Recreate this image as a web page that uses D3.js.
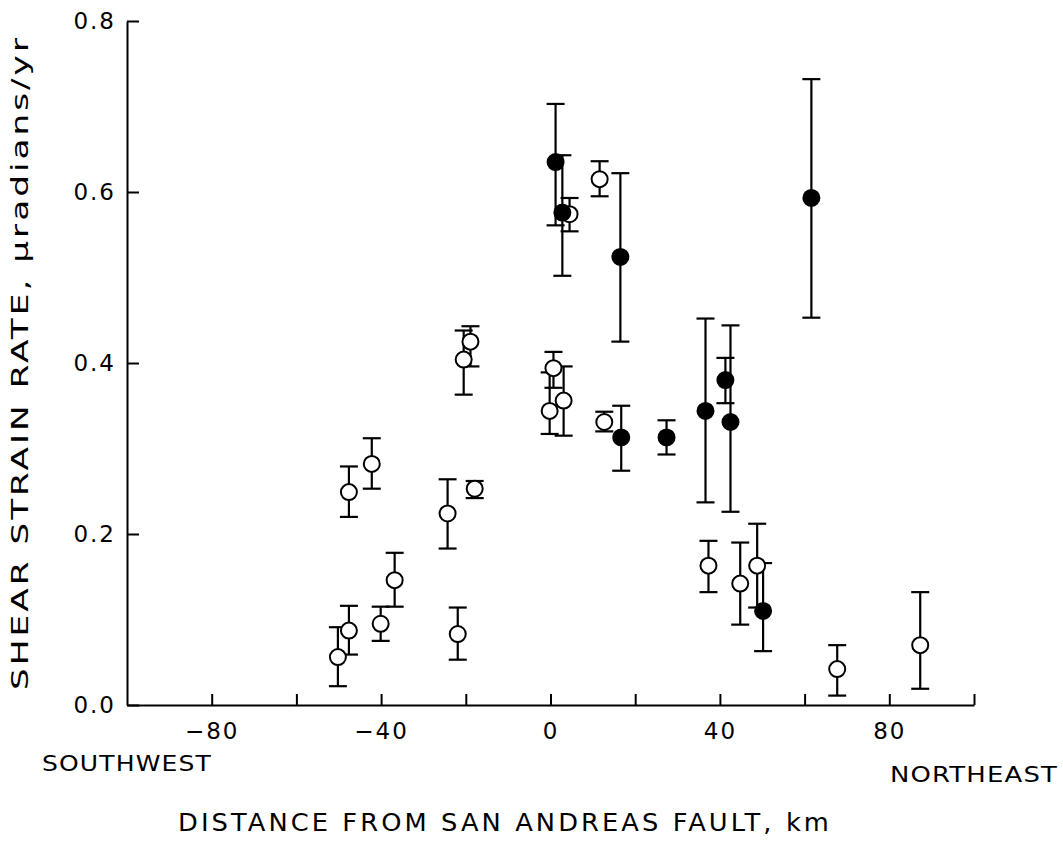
<!DOCTYPE html>
<html>
<head>
<meta charset="utf-8">
<script src="https://cdn.jsdelivr.net/npm/d3@7"></script>
<style>
  html, body { margin: 0; padding: 0; background: #fff; }
  svg { display: block; }
  text { font-family: "DejaVu Sans", sans-serif; fill: #000; }
</style>
</head>
<body>
<div id="chart"></div>
<script>
// open circles
const openDist = [-50.2, -47.6, -47.6, -42.2, -40.1, -36.8, -24.3, -21.9, -20.5, -18.9, -17.9,
  -0.2, 0.7, 3.1, 4.5, 11.6, 12.7, 37.3, 44.8, 48.8, 67.7, 87.3];
const openRate = [0.056, 0.087, 0.249, 0.282, 0.095, 0.146, 0.224, 0.083, 0.404, 0.425, 0.253,
  0.344, 0.394, 0.356, 0.574, 0.615, 0.331, 0.163, 0.142, 0.163, 0.042, 0.070];
const openLow = [0.022, 0.059, 0.220, 0.253, 0.075, 0.115, 0.183, 0.053, 0.363, 0.396, 0.242,
  0.317, 0.371, 0.315, 0.554, 0.595, 0.320, 0.132, 0.094, 0.114, 0.011, 0.019];
const openHigh = [0.091, 0.116, 0.279, 0.312, 0.115, 0.178, 0.264, 0.114, 0.438, 0.443, 0.262,
  0.389, 0.413, 0.396, 0.593, 0.636, 0.343, 0.192, 0.190, 0.212, 0.070, 0.132];

// filled circles
const fillDist = [1.2, 2.8, 16.5, 16.7, 27.4, 36.6, 41.3, 42.5, 50.2, 61.6];
const fillRate = [0.635, 0.576, 0.524, 0.313, 0.313, 0.344, 0.380, 0.331, 0.110, 0.593];
const fillLow = [0.561, 0.502, 0.425, 0.274, 0.293, 0.237, 0.353, 0.226, 0.063, 0.453];
const fillHigh = [0.703, 0.643, 0.622, 0.350, 0.333, 0.452, 0.406, 0.444, 0.166, 0.732];

const xTicks = [-80, -60, -40, -20, 0, 20, 40, 60, 80, 100];
const xLabelled = [-80, -40, 0, 40, 80];
const yTicks = [0, 0.2, 0.4, 0.6, 0.8];

const width = 1063;
const height = 841;

const svg = d3.select("#chart").append("svg")
  .attr("width", width)
  .attr("height", height);

const xScale = d3.scaleLinear().domain([-100, 100]).range([127, 974]);
const yScale = d3.scaleLinear().domain([0, 0.8]).range([705, 21]);

// x axis, ticks pointing up into the plot
const xAxis = d3.axisBottom(xScale)
  .tickValues(xTicks)
  .tickSize(-11)
  .tickSizeOuter(0)
  .tickPadding(18)
  .tickFormat((d) => (xLabelled.includes(d) ? d3.format("d")(d) : ""));

const gx = svg.append("g")
  .attr("transform", `translate(0, ${yScale(0)})`)
  .call(xAxis);

// y axis, ticks pointing right
const yAxis = d3.axisLeft(yScale)
  .tickValues(yTicks)
  .tickSize(-12)
  .tickSizeOuter(0)
  .tickPadding(11)
  .tickFormat(d3.format(".1f"));

const gy = svg.append("g")
  .attr("transform", `translate(${xScale(-100)}, 0)`)
  .call(yAxis);

[gx, gy].forEach((g) => {
  g.selectAll("path, line").attr("stroke", "#000").attr("stroke-width", 2);
  g.selectAll("text")
    .style("font-size", "23px")
    .style("letter-spacing", "2px")
    .attr("fill", "#000");
});

// data
const points = [];
openDist.forEach((d, i) => points.push({ x: d, y: openRate[i], lo: openLow[i], hi: openHigh[i], filled: false }));
fillDist.forEach((d, i) => points.push({ x: d, y: fillRate[i], lo: fillLow[i], hi: fillHigh[i], filled: true }));

const cap = 9;
const bars = svg.append("g").attr("class", "errorbars")
  .attr("stroke", "#000")
  .attr("stroke-width", 2.2);

bars.selectAll("line.v")
  .data(points)
  .join("line")
  .attr("class", "v")
  .attr("x1", (d) => xScale(d.x))
  .attr("x2", (d) => xScale(d.x))
  .attr("y1", (d) => yScale(d.lo))
  .attr("y2", (d) => yScale(d.hi));

bars.selectAll("line.hi")
  .data(points)
  .join("line")
  .attr("class", "hi")
  .attr("x1", (d) => xScale(d.x) - cap)
  .attr("x2", (d) => xScale(d.x) + cap)
  .attr("y1", (d) => yScale(d.hi))
  .attr("y2", (d) => yScale(d.hi));

bars.selectAll("line.lo")
  .data(points)
  .join("line")
  .attr("class", "lo")
  .attr("x1", (d) => xScale(d.x) - cap)
  .attr("x2", (d) => xScale(d.x) + cap)
  .attr("y1", (d) => yScale(d.lo))
  .attr("y2", (d) => yScale(d.lo));

svg.append("g").attr("class", "dots")
  .selectAll("circle")
  .data(points)
  .join("circle")
  .attr("cx", (d) => xScale(d.x))
  .attr("cy", (d) => yScale(d.y))
  .attr("r", 8)
  .attr("fill", (d) => (d.filled ? "#000" : "#fff"))
  .attr("stroke", "#000")
  .attr("stroke-width", 2);

// labels
svg.append("text")
  .attr("x", 42)
  .attr("y", 771)
  .attr("textLength", 170)
  .attr("lengthAdjust", "spacingAndGlyphs")
  .style("font-size", "22px")
  .style("letter-spacing", "1px")
  .text("SOUTHWEST");

svg.append("text")
  .attr("x", 890)
  .attr("y", 782)
  .attr("textLength", 168)
  .attr("lengthAdjust", "spacingAndGlyphs")
  .style("font-size", "22px")
  .style("letter-spacing", "1px")
  .text("NORTHEAST");

svg.append("text")
  .attr("x", 178)
  .attr("y", 831)
  .attr("textLength", 654)
  .attr("lengthAdjust", "spacingAndGlyphs")
  .style("font-size", "25px")
  .style("letter-spacing", "3px")
  .text("DISTANCE FROM SAN ANDREAS FAULT, km");

svg.append("text")
  .attr("transform", "translate(28, 690) rotate(-90)")
  .attr("textLength", 655)
  .attr("lengthAdjust", "spacingAndGlyphs")
  .style("font-size", "23px")
  .style("letter-spacing", "2px")
  .text("SHEAR STRAIN RATE,  \u03bcradians/yr");
</script>
</body>
</html>
